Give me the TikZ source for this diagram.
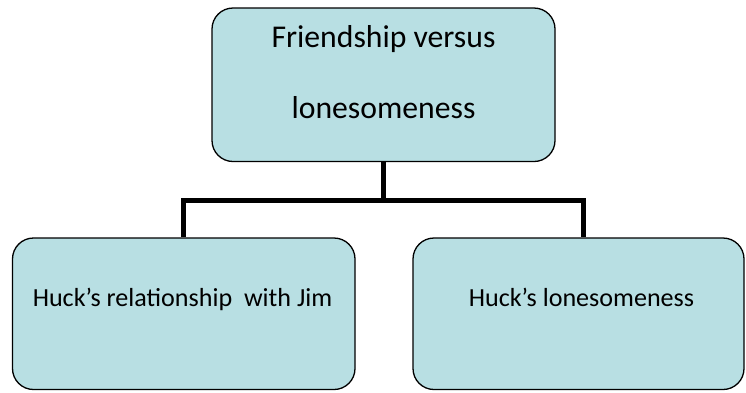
\documentclass[tikz,border=0pt]{standalone}
\usepackage{fontspec}
\setmainfont{Carlito}
\definecolor{boxfill}{RGB}{184,223,227}
\tikzset{
  topicbox/.style={draw=black, line width=1.3pt, fill=boxfill, rounded corners=21pt,
    rectangle, inner sep=0pt},
  headtext/.style={inner sep=0pt, anchor=base, font=\fontsize{31.7}{38}\selectfont},
  subtext/.style={inner sep=0pt, anchor=base, font=\fontsize{26.1}{31}\selectfont},
  conn/.style={draw=black, line width=5.5pt}
}
\begin{document}
\begin{tikzpicture}[x=1pt, y=-1pt]
  \useasboundingbox (0,0) rectangle (746,392);

  % boxes
  \node[topicbox, minimum width=343pt, minimum height=153.5pt] (top) at (383.5,84.75) {};
  \node[topicbox, minimum width=342.5pt, minimum height=151.5pt] (left) at (183.75,313.75) {};
  \node[topicbox, minimum width=331pt, minimum height=151.5pt] (right) at (578.5,313.75) {};

  % labels
  \node[headtext] (t1) at (383.5,47) {Friendship versus};
  \node[headtext] (t2) at (383.5,118) {lonesomeness};
  \node[subtext] (l1) at (182.5,306) {Huck’s relationship\ \ with Jim};
  \node[subtext] (r1) at (581.5,306) {Huck’s lonesomeness};

  % connectors
  \coordinate (jl) at (183.5,200.5);
  \coordinate (jr) at (583.5,200.5);
  \draw[conn] (top.south) -- (top.south |- jl);
  \draw[conn] (left.north -| jl) -- (jl) -- (jr) -- (jr |- right.north);
\end{tikzpicture}
\end{document}
